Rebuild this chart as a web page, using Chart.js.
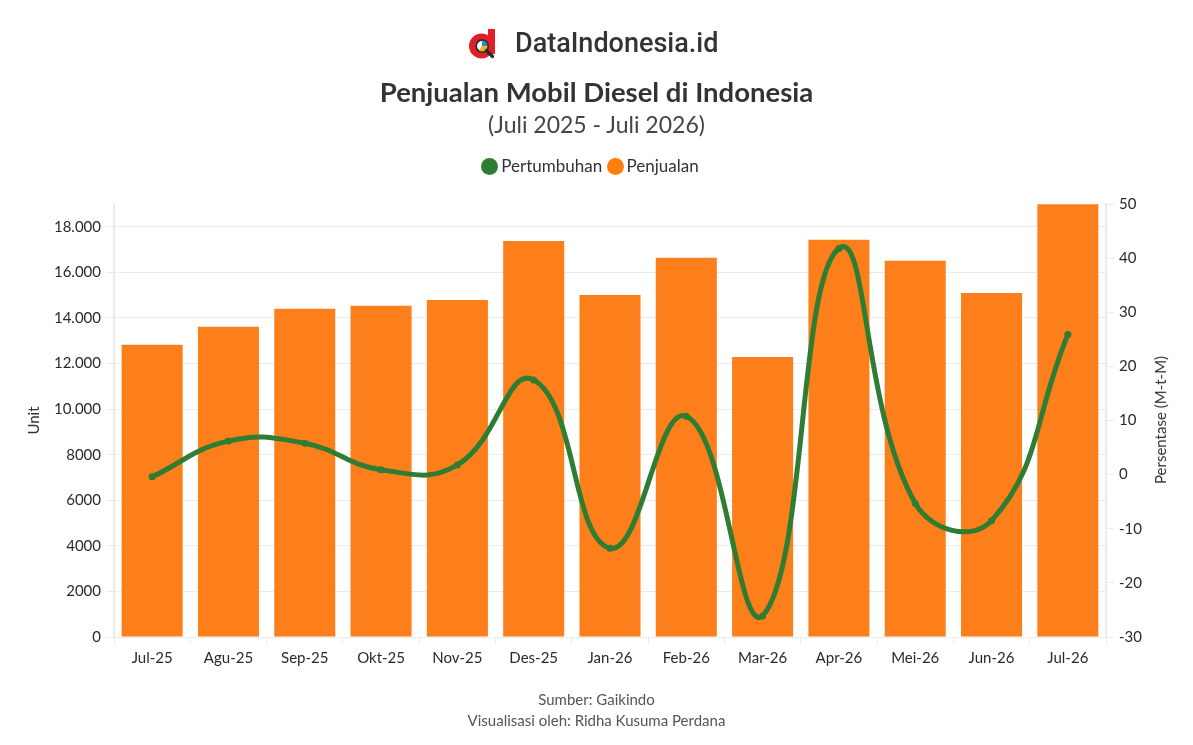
<!DOCTYPE html>
<html>
<head>
<meta charset="utf-8">
<script src="https://cdn.jsdelivr.net/npm/chart.js@4.4.1/dist/chart.umd.min.js"></script>
<style>
  body { margin: 0; background: #fff; font-family: "Lato", "Noto Sans", sans-serif; }
  #wrap { position: relative; width: 1193px; height: 745px; }
  #grafik { position: absolute; left: 0; top: 0; }
  .teks { position: absolute; left: 0; width: 1193px; text-align: center; color: #333; }
  #logo { position: absolute; left: 469px; top: 29px; }
  #merek { position: absolute; left: 515px; top: 27px; font-family: Roboto, sans-serif; font-size: 27px; font-weight: 500; color: #333; }
  #judul { top: 75px; font-size: 27.5px; font-weight: 700; }
  #subjudul { top: 110px; font-size: 23px; color: #444; }
  #legenda { top: 155px; font-size: 17px; width: 1180px; }
  #legenda span.bulat { display: inline-block; width: 17px; height: 17px; border-radius: 50%; vertical-align: -3px; margin-right: 3px; }
  #sumber { top: 689px; font-size: 15px; color: #555; line-height: 21px; }
  #judulKanan { position: absolute; left: 1160px; top: 420px; transform: translate(-50%, -50%) rotate(-90deg); font-size: 15px; color: #333; white-space: nowrap; }
</style>
</head>
<body>
<div id="wrap">
  <canvas id="grafik" width="1193" height="745"></canvas>
  <svg id="logo" width="30" height="33" viewBox="0 0 30 33">
    <path d="M19 0 h7 v25 h-7 z" fill="#e31e24"/>
    <circle cx="12.5" cy="17" r="9.5" fill="none" stroke="#e31e24" stroke-width="6"/>
    <circle cx="13" cy="17" r="6" fill="#fff" stroke="#2a2a2a" stroke-width="2"/>
    <path d="M13 17 L13 11.5 A5.5 5.5 0 0 1 18.5 17 z" fill="#2e86de"/>
    <path d="M13 17 L18.5 17 A5.5 5.5 0 0 1 10 21.5 z" fill="#f4b41b"/>
    <path d="M17.5 21.5 l6 6" stroke="#2a2a2a" stroke-width="3.2" stroke-linecap="round"/>
  </svg>
  <div id="merek">DataIndonesia.id</div>
  <div class="teks" id="judul">Penjualan Mobil Diesel di Indonesia</div>
  <div class="teks" id="subjudul">(Juli 2025 - Juli 2026)</div>
  <div class="teks" id="legenda"><span class="bulat" style="background:#2e7d32"></span>Pertumbuhan <span class="bulat" style="background:#ff7f0e"></span>Penjualan</div>
  <div id="judulKanan">Persentase (M-t-M)</div>
  <div class="teks" id="sumber">Sumber: Gaikindo<br>Visualisasi oleh: Ridha Kusuma Perdana</div>
</div>
<script>
// data
const bulan = ["Jul-25", "Agu-25", "Sep-25", "Okt-25", "Nov-25", "Des-25", "Jan-26", "Feb-26", "Mar-26", "Apr-26", "Mei-26", "Jun-26", "Jul-26"];
const penjualan = [12820, 13610, 14400, 14530, 14790, 17380, 15010, 16640, 12290, 17430, 16510, 15100, 18990];
const pertumbuhan = [-0.4, 6.2, 5.8, 0.9, 1.8, 17.5, -13.6, 10.8, -26.1, 41.8, -5.3, -8.5, 25.9];
const tickKiri = [0, 2000, 4000, 6000, 8000, 10000, 12000, 14000, 16000, 18000];

const warnaGrid = "#ebebeb";
const fontTick = { family: "Lato, 'Noto Sans', sans-serif", size: 15 };

// format angka ala plotly: titik ribuan hanya untuk >= 10000
function formatUnit(v) {
  if (v >= 10000) return String(v).replace(/\B(?=(\d{3})+(?!\d))/g, ".");
  return String(v);
}

const config = {
  type: "bar",
  data: {
    labels: bulan,
    datasets: [
      {
        type: "line",
        label: "Pertumbuhan",
        data: pertumbuhan,
        yAxisID: "y1",
        borderColor: "#2e7d32",
        backgroundColor: "#2e7d32",
        borderWidth: 5,
        pointRadius: 3.5,
        pointBorderWidth: 0,
        tension: 0.45,
        order: 0
      },
      {
        label: "Penjualan",
        data: penjualan,
        yAxisID: "y",
        backgroundColor: "#fd7f1b",
        barPercentage: 0.8,
        categoryPercentage: 1.0,
        order: 1
      }
    ]
  },
  options: {
    responsive: false,
    animation: false,
    layout: { padding: { top: 204, bottom: 68, left: 25, right: 0 } },
    plugins: { legend: { display: false }, title: { display: false }, tooltip: { enabled: false } },
    scales: {
      x: {
        grid: { display: true, drawOnChartArea: false, drawTicks: true, tickLength: 8, tickColor: warnaGrid },
        border: { display: false },
        ticks: { color: "#2a2a2a", font: fontTick, padding: 4, maxRotation: 0 },
        afterFit: s => { s.height = 40; }
      },
      y: {
        position: "left",
        min: 0,
        max: 19000,
        ticks: { stepSize: 2000, color: "#2a2a2a", font: fontTick, padding: 5, callback: v => formatUnit(v) },
        afterBuildTicks: s => { s.ticks = tickKiri.map(v => ({ value: v })); },
        grid: { color: warnaGrid, tickLength: 8, tickColor: warnaGrid },
        border: { color: warnaGrid, width: 2 },
        title: { display: true, text: "Unit", color: "#333", font: { family: "Lato, 'Noto Sans', sans-serif", size: 15 }, padding: 0 },
        afterFit: s => { s.width = 89; }
      },
      y1: {
        position: "right",
        min: -30,
        max: 50,
        ticks: { stepSize: 10, color: "#2a2a2a", font: fontTick, padding: 5 },
        grid: { drawOnChartArea: false, tickLength: 8, tickColor: warnaGrid },
        border: { color: warnaGrid, width: 2 },
        afterFit: s => { s.width = 87; }
      }
    }
  }
};

new Chart(document.getElementById("grafik"), config);
</script>
</body>
</html>
